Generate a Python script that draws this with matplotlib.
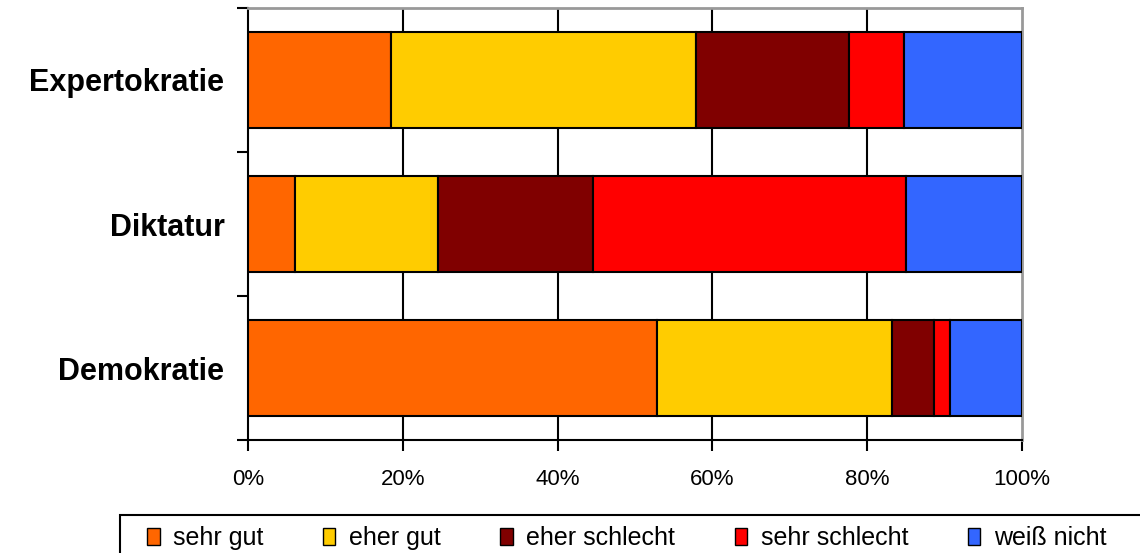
import matplotlib
matplotlib.use("Agg")
import matplotlib.pyplot as plt
from matplotlib.patches import Rectangle
import numpy as np

plt.rcParams['font.family'] = ['Liberation Sans', 'DejaVu Sans']

# Daten (Anteile in %)
kategorien = ['Demokratie', 'Diktatur', 'Expertokratie']
antworten = ['sehr gut', 'eher gut', 'eher schlecht', 'sehr schlecht', 'weiß nicht']
farben = ['#FF6600', '#FFCC00', '#800000', '#FF0000', '#3366FF']
sehr_gut = [52.8, 6.1, 18.5]
eher_gut = [30.4, 18.4, 39.4]
eher_schlecht = [5.4, 20.1, 19.7]
sehr_schlecht = [2.1, 40.4, 7.2]
weiss_nicht = [9.3, 15.0, 15.2]
werte = [sehr_gut, eher_gut, eher_schlecht, sehr_schlecht, weiss_nicht]

fig = plt.figure(figsize=(11.4, 5.53), dpi=100)
ax = fig.add_axes([248/1140, 1 - 440/553, 774/1140, 432/553])

y = np.arange(len(kategorien))
links = np.zeros(len(kategorien))
for name, w, c in zip(antworten, werte, farben):
    ax.barh(y, w, left=links, height=0.665, color=c, edgecolor='black',
            linewidth=1.5, label=name, zorder=3)
    links += np.array(w)

ax.set_xlim(0, 100)
ax.set_ylim(-0.5, 2.5)

# Gitter
for gx in [20, 40, 60, 80]:
    ax.axvline(gx, color='black', linewidth=1.5, zorder=1)

for s in ['top', 'right']:
    ax.spines[s].set_color('#999999')
    ax.spines[s].set_linewidth(2)
for s in ['left', 'bottom']:
    ax.spines[s].set_linewidth(1.5)
    ax.spines[s].set_color('black')

ax.set_xticks([0, 20, 40, 60, 80, 100])
ax.set_xticklabels(['0%', '20%', '40%', '60%', '80%', '100%'], fontsize=16)
ax.tick_params(axis='x', direction='out', length=8, width=1.5, pad=13)

ax.set_yticks(y)
ax.set_yticklabels(kategorien, fontsize=22, fontweight='bold')
ax.set_yticks([-0.5, 0.5, 1.5, 2.5], minor=True)
ax.tick_params(axis='y', which='major', length=0, pad=17)
ax.tick_params(axis='y', which='minor', direction='out', length=8, width=1.5)

# Legendenrahmen (läuft über den Bildrand hinaus)
fig.patches.append(Rectangle((120/1140, -0.1), 1.0, 1 - 515/553 + 0.1,
                             transform=fig.transFigure, fill=False,
                             edgecolor='black', linewidth=1.5))
leg = fig.legend(loc='center left', bbox_to_anchor=(147/1140, 1 - 538/553),
                 ncol=5, fontsize=18, frameon=False,
                 handlelength=0.5, handleheight=0.65, handletextpad=0.55,
                 borderaxespad=0, borderpad=0, columnspacing=2.37)
for h in leg.legend_handles:
    h.set_linewidth(1.0)

fig.savefig('out.png', dpi=100)
